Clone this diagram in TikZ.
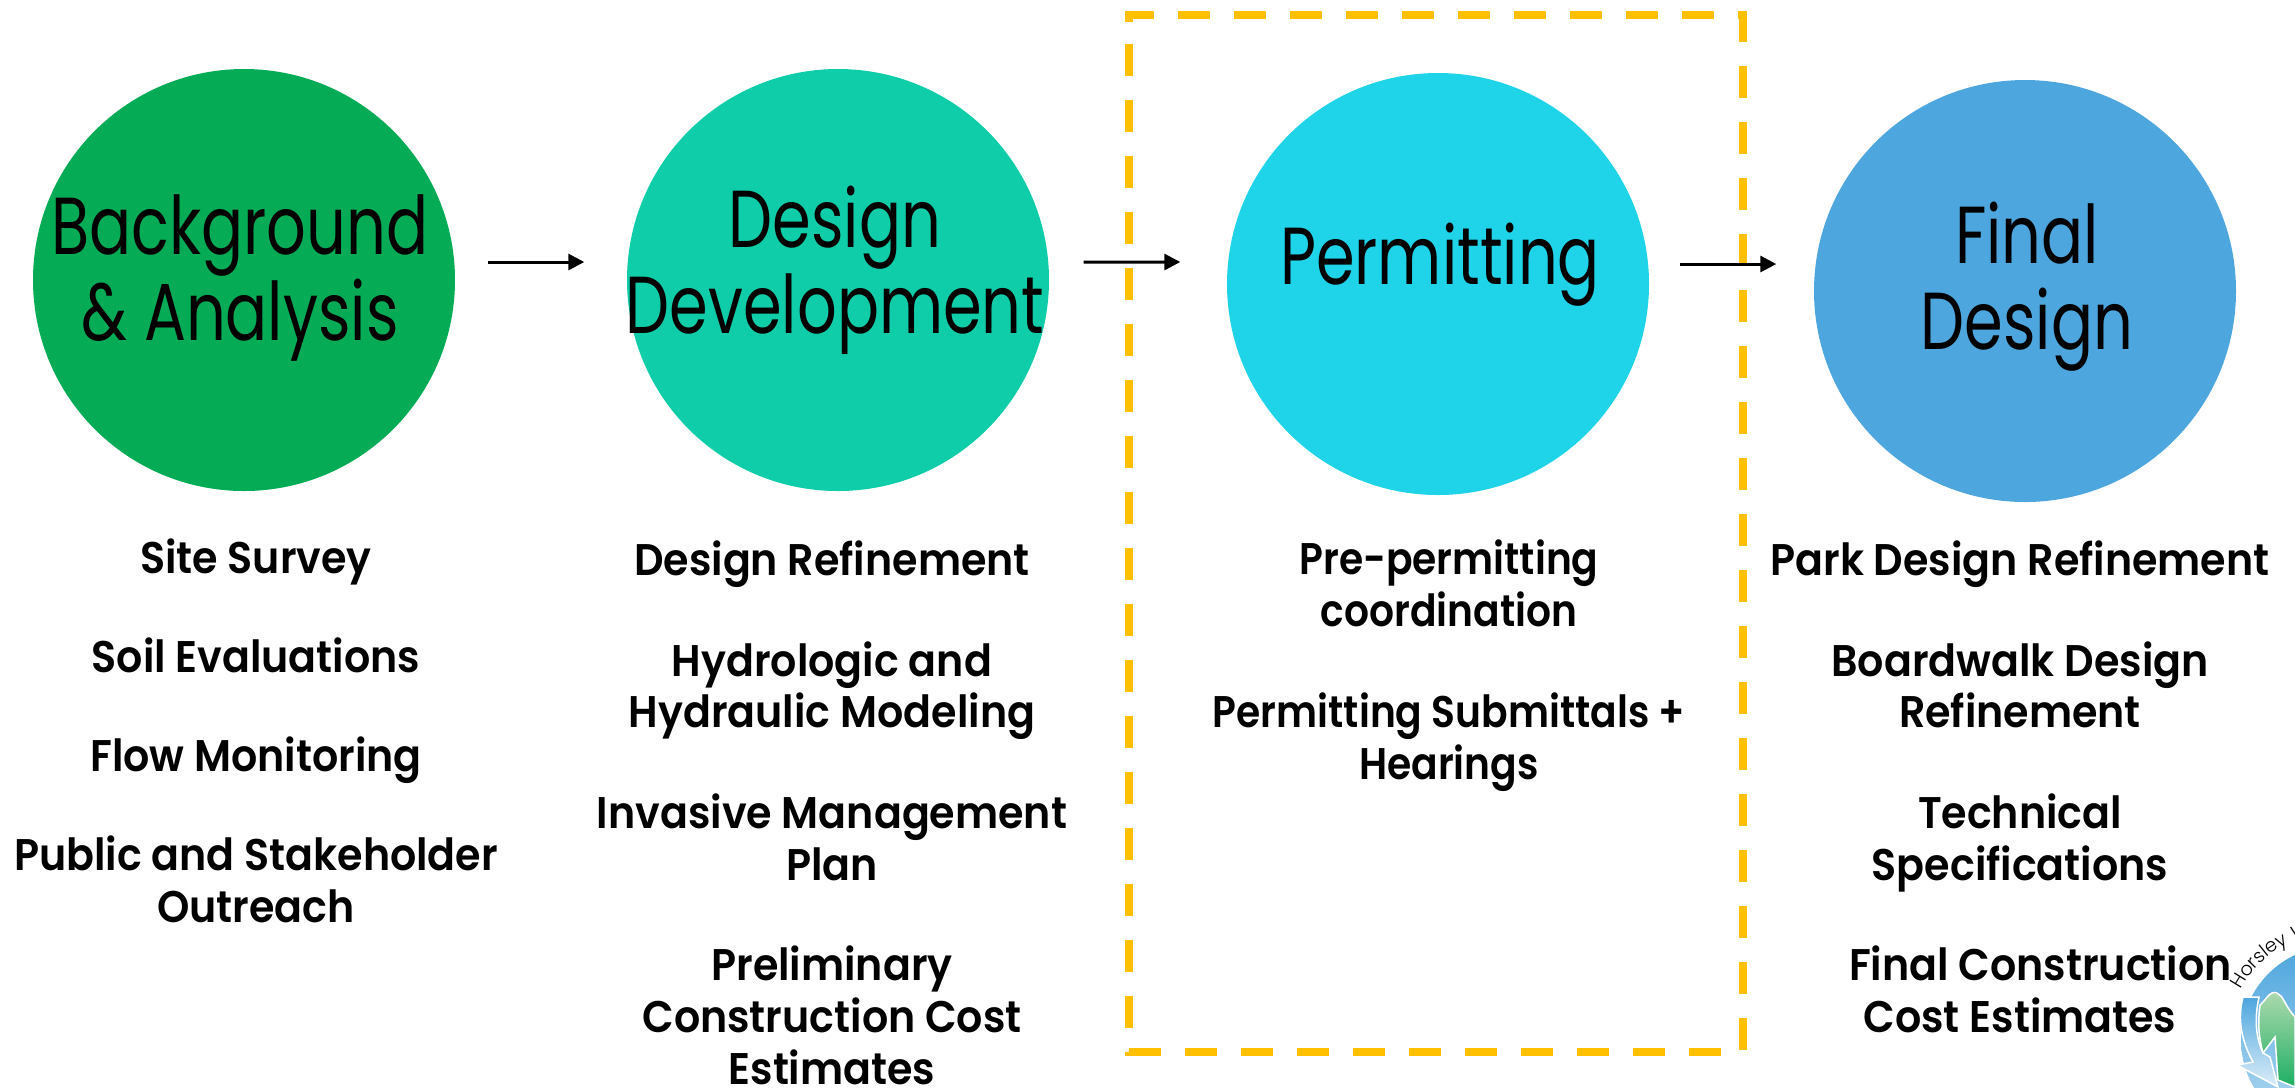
\documentclass[tikz,border=0pt]{standalone}
\usepackage{fontspec}
\usetikzlibrary{arrows.meta,decorations.text}
\newfontfamily\headfont[FakeStretch=0.77]{Poppins}
\newfontfamily\logofont{Poppins Light}
\newfontfamily\itemfont[FakeStretch=0.93,BoldFont={Poppins SemiBold}]{Poppins}
\newfontfamily\permfont[FakeStretch=0.885,BoldFont={Poppins SemiBold}]{Poppins}
\definecolor{bggreen}{RGB}{5,172,85}
\definecolor{ddteal}{RGB}{14,205,168}
\definecolor{permcyan}{RGB}{31,211,233}
\definecolor{finalblue}{RGB}{77,166,222}
\definecolor{boxyellow}{RGB}{255,192,0}
\definecolor{logolight}{RGB}{175,218,175}
\definecolor{logodark}{RGB}{30,175,100}
\tikzset{
  stage/.style = {circle, minimum size = 4.22cm, inner sep = 0pt},
  headtext/.style = {align = center, inner sep = 0pt, font = \headfont\fontsize{23}{24.5}\selectfont},
  itemlist/.style = {align = center, anchor = north, inner sep = 0pt, font = \itemfont\bfseries\fontsize{12.6}{14.7}\selectfont},
  flow/.style = {line width = .03cm, -{Triangle[length = .16cm, width = .16cm]}}
}
\begin{document}
\begin{tikzpicture}
\useasboundingbox (0,0) rectangle (22.95,-10.87);
\node [stage, fill = bggreen] (bg) at (2.44,-2.80) {};
\node [stage, fill = ddteal] (dd) at (8.38,-2.80) {};
\node [stage, fill = permcyan] (perm) at (14.38,-2.84) {};
\node [stage, fill = finalblue] (final) at (20.25,-2.91) {};
\node [headtext] (bgt) at (2.40,-2.78) {Background\\\& Analysis};
\node [headtext] (ddt) at (8.35,-2.70) {Design\\Development};
\node [headtext] (permt) at (14.40,-2.65) {Permitting};
\node [headtext] (finalt) at (20.27,-2.87) {Final\\Design};
\draw [boxyellow, line width = .08cm, dash pattern = on .32cm off .24cm] (11.29,-.22) -- (11.29,-.15) -- (17.43,-.15) -- (17.43,-10.52) -- (11.29,-10.52) -- cycle; % permitting box
\draw [flow] ([xshift = .32cm, yshift = .18cm]bg.east) -- ([xshift = -.42cm, yshift = .18cm]dd.west);
\draw [flow] ([xshift = .34cm, yshift = .18cm]dd.east) -- ([xshift = -.46cm, yshift = .22cm]perm.west);
\draw [flow] ([xshift = .30cm, yshift = .20cm]perm.east) -- ([xshift = -.37cm, yshift = .27cm]final.west);
\node [itemlist] (bglist) at (2.56,-5.38) {Site Survey\\[.475cm]Soil Evaluations\\[.475cm]Flow Monitoring\\[.475cm]Public and Stakeholder\\Outreach};
\node [itemlist] (ddlist) at (8.32,-5.40) {Design Refinement\\[.49cm]Hydrologic and\\Hydraulic Modeling\\[.49cm]Invasive Management\\Plan\\[.49cm]Preliminary\\Construction Cost\\Estimates};
\node [itemlist, font = \permfont\bfseries\fontsize{12.6}{14.7}\selectfont] (permlist) at (14.49,-5.39) {Pre-permitting\\coordination\\[.50cm]Permitting Submittals +\\Hearings};
\node [itemlist] (finallist) at (20.20,-5.40) {Park Design Refinement\\[.49cm]Boardwalk Design\\Refinement\\[.49cm]Technical\\Specifications\\[.49cm]\hspace*{.41cm}Final Construction\\Cost Estimates};
% logo
\shade [top color = finalblue, bottom color = finalblue!40] (23.35,-10.40) circle (.94);
\shade [top color = finalblue, bottom color = finalblue!20, draw = white, line width = .015cm] (22.43,-9.97) .. controls (22.37,-10.2) and (22.42,-10.42) .. (22.53,-10.62) -- (22.37,-10.65) -- (22.78,-10.87) -- (22.70,-10.57) -- (22.63,-10.53) .. controls (22.56,-10.38) and (22.54,-10.2) .. (22.59,-9.97) -- cycle;
\shade [top color = logolight, bottom color = logodark, draw = white, line width = .015cm] (22.60,-10.05) .. controls (22.66,-10.0) and (22.70,-9.90) .. (22.77,-9.93) .. controls (22.84,-9.96) and (22.84,-10.05) .. (22.95,-10.17) -- (22.95,-10.87) -- (22.78,-10.80) -- (22.75,-10.37) -- (22.63,-10.53) .. controls (22.58,-10.35) and (22.58,-10.2) .. (22.60,-10.05);
\path [decorate, decoration = {text along path, text format delimiters = {|}{|}, text = {|\logofont\fontsize{5.4}{6}\selectfont|Horsley W}}] (23.35,-10.40) ++(152:1.07) arc (152:60:1.07);
\end{tikzpicture}
\end{document}
